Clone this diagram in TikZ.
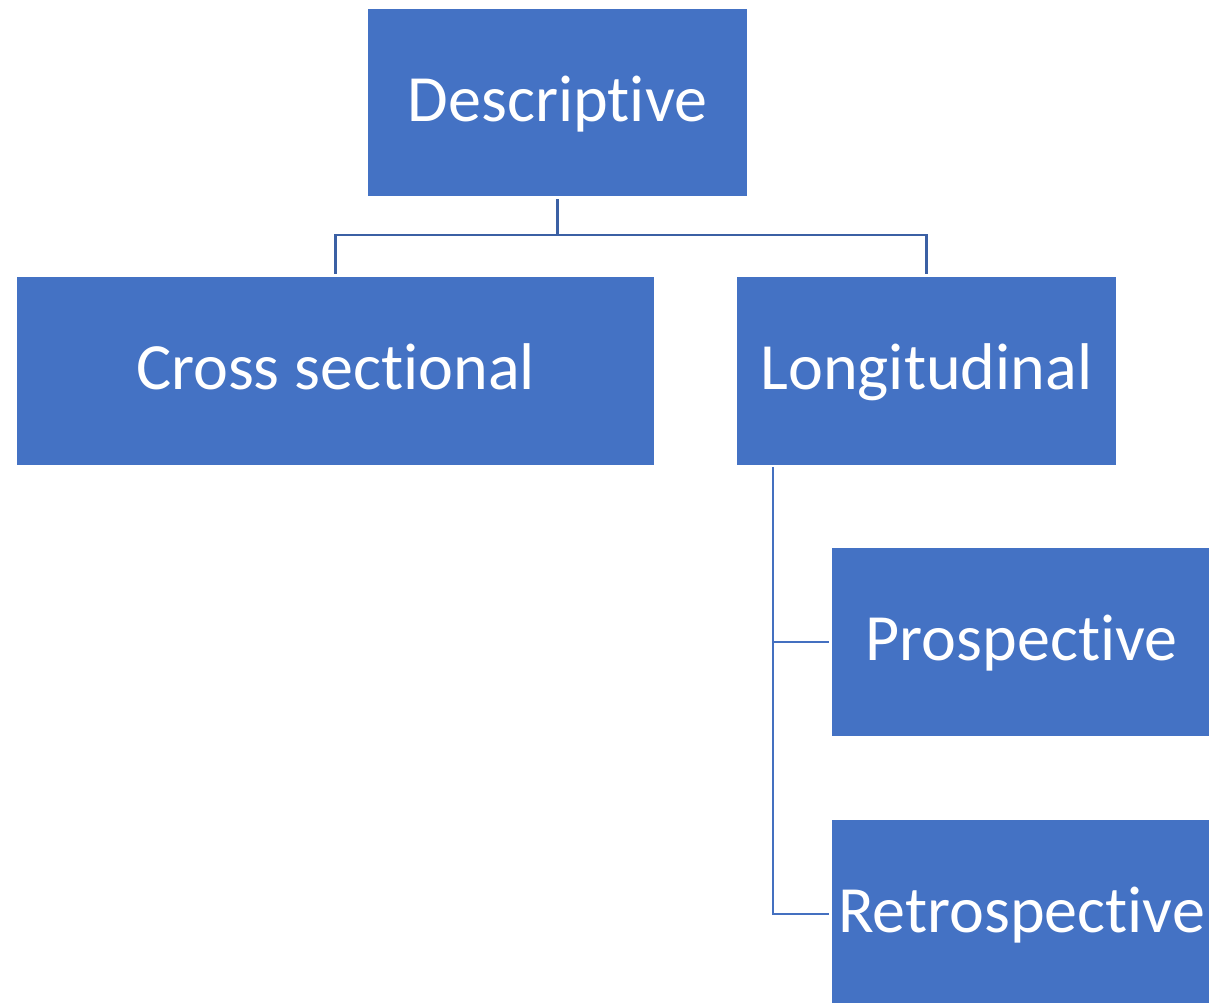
\documentclass[tikz,border=0pt]{standalone}
\usepackage{fontspec}
\setmainfont[Ligatures=NoCommon]{Carlito}
\usepackage{tikz}
\definecolor{boxblue}{RGB}{68,114,196}
\definecolor{topblue}{RGB}{59,96,164}
\definecolor{sideblue}{RGB}{68,112,192}
\tikzset{
	box/.style={fill=boxblue,text=white,inner sep=0pt,minimum width=7.58cm,minimum height=3.76cm,
		text height=0.74cm,text depth=0cm,font=\fontsize{37.6}{45}\selectfont},
	topline/.style={draw=topblue,line width=1.5pt},
	sideline/.style={draw=sideblue,line width=1.3pt}
}

\begin{document}
\begin{tikzpicture}
		\useasboundingbox (0,0) rectangle (24.18,-20.06);
		\clip (0,0) rectangle (24.18,-20.06);
		\draw (11.15,-2.05) 	node (desc) [box,minimum height=3.74cm] {Descriptive};
		\draw (6.71,-7.42) 	node (cross) [box,minimum width=12.74cm] {Cross sectional};
		\draw (18.53,-7.42) 	node (long) [box] {Longitudinal};
		\draw (20.43,-12.84) 	node (pro) [box] {Prospective};
		\draw (20.43,-18.28) 	node (retro) [box] {Retrospective};
		\coordinate (split) at (11.15,-4.7);
		\coordinate (trunk) at ([xshift=0.73cm]long.south west);
		\draw [topline,shorten <=0.06cm] (desc.south) -- (split);
		\draw [topline,shorten >=0.06cm] (split) -| (cross.north);
		\draw [topline,shorten >=0.06cm] (split) -| (long.north);
		\draw [sideline,shorten <=0.04cm,shorten >=0.06cm] (trunk) |- (pro.west);
		\draw [sideline,shorten <=0.04cm,shorten >=0.06cm] (trunk) |- (retro.west);
	 \end{tikzpicture}
\end{document}
